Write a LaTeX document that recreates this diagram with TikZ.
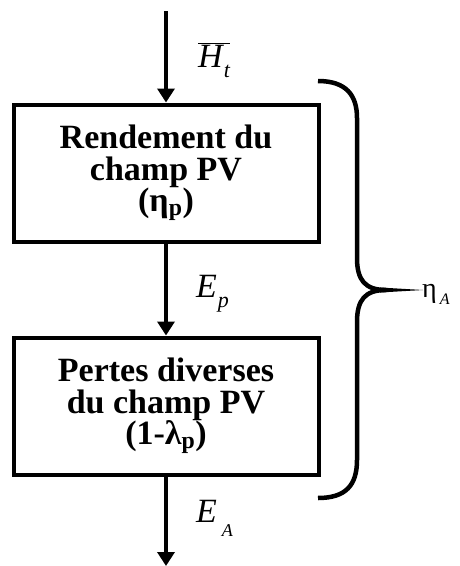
\documentclass[tikz,border=0pt]{standalone}
\usepackage{fontspec}
\setmainfont{Liberation Serif}
\usetikzlibrary{arrows.meta}

\begin{document}
\begin{tikzpicture}[x=1pt, y=-1pt, >={Triangle[width=17pt,length=14pt]},
    bloc/.style={draw, line width=4pt, minimum width=305pt, minimum height=137pt,
        align=center, font=\fontsize{34}{31.5}\selectfont\bfseries},
    flux/.style={->, line width=4.5pt},
    lbl/.style={anchor=base west, inner sep=0pt, font=\fontsize{34}{34}\selectfont\itshape}]
    \useasboundingbox (0,0) rectangle (459,566);

    \node[bloc] (rend) at (166,173) {Rendement du\\champ PV\\(η\textsubscript{p})};
    \node[bloc] (pertes) at (166,406) {Pertes diverses\\du champ PV\\(1-λ\textsubscript{p})};
    \coordinate (entree) at (166,11);
    \coordinate (sortie) at (166,566);

    \draw[flux] (entree) -- (rend);
    \draw[flux] (rend) -- (pertes);
    \draw[flux] (pertes) -- (sortie);

    \node[lbl] (ht) at (198,67) {$\overline{\hbox{H\hspace{1pt}\raisebox{-10pt}{\fontsize{22}{22}\selectfont t}}}$};
    \node[lbl] (ep) at (196,297) {E\hspace{1pt}\raisebox{-10pt}{\fontsize{22}{22}\selectfont p}};
    \node[lbl] (ea) at (196,522) {E\hspace{5pt}\raisebox{-14pt}{\fontsize{18}{18}\selectfont A}};

    \draw[line width=4.5pt, line join=round] (318,81) .. controls (346,81) and (357,95) .. (357,118)
        -- (357,258) .. controls (357,280) and (365,290) .. (386,290)
        .. controls (365,290) and (357,300) .. (357,322) -- (357,460)
        .. controls (357,485) and (346,498) .. (318,498);
    \coordinate (pointe) at (423,290);
    \fill (380,287.5) -- (pointe) -- (380,292.5) -- cycle;
    \node[anchor=base west, inner sep=0pt, font=\fontsize{28}{28}\selectfont] (eta) at (422,297)
        {η\hspace{3pt}\raisebox{-7pt}{\fontsize{16}{16}\selectfont\itshape A}};
\end{tikzpicture}
\end{document}
